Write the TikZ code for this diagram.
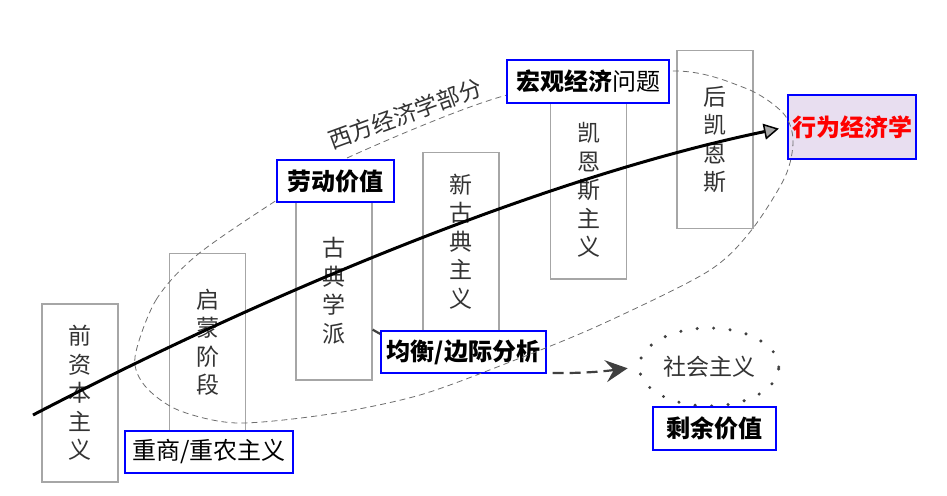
\documentclass[tikz,border=0pt]{standalone}
\usepackage{fontspec}
\newfontfamily\cjk{Noto Sans CJK SC}
\usetikzlibrary{arrows.meta,shapes.geometric}
\definecolor{boxgray}{HTML}{A6A6A6}
\definecolor{inkgray}{HTML}{333333}
\definecolor{ringgray}{HTML}{6E6E6E}
\definecolor{arrowgray}{HTML}{404040}
\definecolor{lavender}{HTML}{E8DEF0}
\definecolor{pureblue}{HTML}{0000FF}
\begin{document}
\begin{tikzpicture}[x=1pt,y=-1pt,
  stage/.style={draw=boxgray,line width=1.2pt,minimum width=76pt,minimum height=178pt,
    align=center,text=inkgray,font=\cjk\fontsize{23}{28.5}\selectfont},
  tag/.style={draw=pureblue,line width=2.5pt,fill=white,inner sep=0pt,minimum height=42pt,
    font=\cjk\bfseries\fontsize{24}{28}\selectfont}]
\useasboundingbox (0,0) rectangle (947,495);

% schools, from left to right
\node[stage] (qian) at (80,393) {前\\资\\本\\主\\义};
\node[stage] (qimeng) at (207.5,342.5) {启\\蒙\\阶\\段};
\node[stage] (gudian) at (334,291) {古\\典\\学\\派};
\node[stage] (xingudian) at (461,241.5) {新\\古\\典\\主\\义};
\node[stage] (kaien) at (588.5,190) {凯\\恩\\斯\\主\\义};
\node[stage] (houkai) at (715,139.5) {后\\凯\\恩\\斯};

% branch to socialism
\node[draw=arrowgray,ellipse,dash pattern=on 0pt off 16.5pt,line cap=round,line width=3.4pt,
  minimum width=124pt,minimum height=78pt,text=inkgray,
  font=\cjk\fontsize{23}{28}\selectfont] (shehui) at (709,367) {社会主义};
\draw[arrowgray,line width=2.2pt,dash pattern=on 11pt off 6pt,shorten >=10pt,
  -{Stealth[length=22pt,width=22pt,inset=8pt]}]
  (gudian.-45) .. controls (450,375) and (560,377) .. (shehui.west);

\node[tag,fill=lavender,minimum width=128pt,minimum height=64pt,text=red] (xingwei) at (852,127) {行为经济学};
\node[tag,minimum width=165pt] (junheng) at (463.5,352) {均衡/边际分析};

% western part
\draw[ringgray,line width=0.8pt,dash pattern=on 6pt off 4pt]
  plot[smooth cycle] coordinates {(135,357) (156,300) (197,255) (277,200) (347,158)
    (507,95) (670,71) (745,88) (783,113) (793,140) (785,177) (750,232) (707,272)
    (600,325) (510,362) (420,395) (330,414) (237,423) (178,410) (145,386)};
\node[rotate=20,text=inkgray,font=\cjk\fontsize{23}{28}\selectfont] (xifang) at (405,114) {西方经济学部分};

\node[tag,minimum width=168pt,font=\cjk\fontsize{24}{28}\selectfont] (zhongshang) at (209,452) {重商/重农主义};
\node[tag,minimum width=117pt] (laodong) at (335.5,181) {劳动价值};
\node[tag,minimum width=162pt,minimum height=43pt] (hongguan) at (588,81.5) {宏观经济{\mdseries 问题}};
\node[tag,minimum width=123pt,minimum height=43pt] (shengyu) at (714.5,428.5) {剩余价值};

% main line
\coordinate (origin) at (33,415);
\draw[line width=3pt,shorten >=8pt,
  -{Triangle[length=15pt,width=16pt,fill=gray!70,line width=1.5pt]}]
  (origin) .. controls (273,290) and (550,176) .. (xingwei.west);
\end{tikzpicture}
\end{document}
